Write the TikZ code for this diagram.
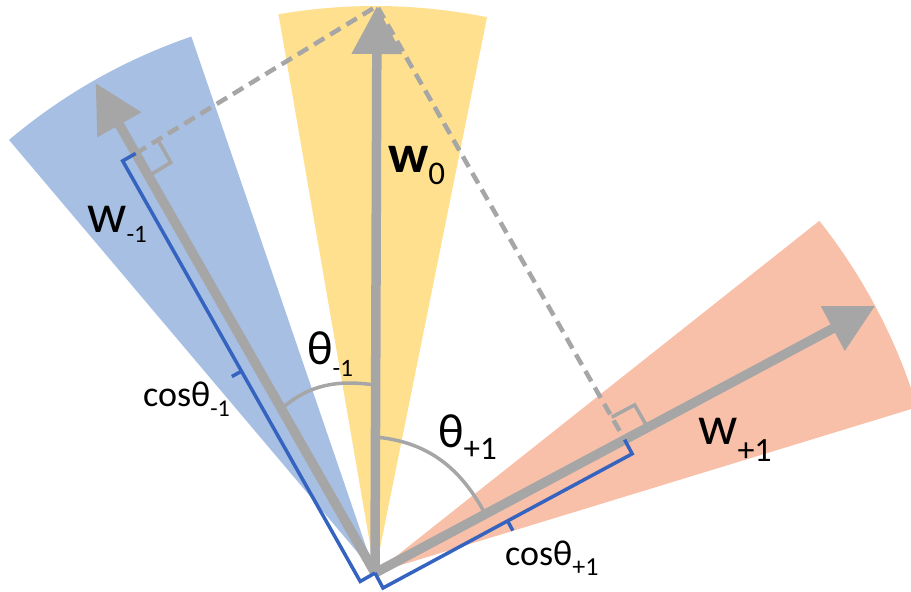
\documentclass[tikz,border=0pt]{standalone}
\usepackage{fontspec}
\setmainfont{Carlito}
\usetikzlibrary{arrows.meta,calc}
\definecolor{secY}{HTML}{FFE08F}
\definecolor{secB}{HTML}{A6BFE2}
\definecolor{secR}{HTML}{F8C0A8}
\definecolor{vecG}{HTML}{A6A6A6}
\definecolor{brB}{HTML}{3563C0}
\begin{document}
\begin{tikzpicture}[x=1pt,y=1pt,
  vec/.style={vecG, line width=9.5pt, -{Triangle[length=48pt,width=48pt]}},
  proj/.style={vecG, line width=4.5pt, dash pattern=on 12pt off 7pt},
  rmark/.style={vecG, line width=3.5pt},
  anglearc/.style={vecG, line width=3.5pt},
  brace/.style={brB, line width=3.5pt, line join=miter},
  lbl/.style={inner sep=0pt, anchor=base west, text=black}
]
\useasboundingbox (-375,-19) rectangle (536,573);
\begin{scope}
\clip (-375,-19) rectangle (536,573);
\fill[secB] (0,0) -- (108.9:567) arc[start angle=108.9, end angle=130.2, radius=567] -- cycle;
\fill[secY] (0,0) -- (78.6:567) arc[start angle=78.6, end angle=99.8, radius=567] -- cycle;
\fill[secR] (0,0) -- (17:567) arc[start angle=17, end angle=38.4, radius=567] -- cycle;
\end{scope}
\coordinate (O) at (0,0);
\coordinate (T0) at (89.8:567);
\coordinate (Tm) at (119.7:564);
\coordinate (Tp) at (28.1:567);
\coordinate (Fm) at (119.7:483);
\coordinate (Fp) at (28.1:283);
% projections
\draw[proj] (Fm) -- (T0) -- (Fp);
% right angle marks
\coordinate (Sa) at ($(Fm)!26pt!(T0)$);
\coordinate (Sb) at ($(Fm)!26pt!(O)$);
\draw[rmark] (Sa) -- ($(Sa)+(Sb)-(Fm)$) -- (Sb);
\coordinate (Sc) at ($(Fp)!26pt!(T0)$);
\coordinate (Sd) at ($(Fp)!26pt!(Tp)$);
\draw[rmark] (Sc) -- ($(Sc)+(Sd)-(Fp)$) -- (Sd);
% vectors
\draw[vec] (O) -- (T0);
\draw[vec] (O) -- (Tm);
\draw[vec] (O) -- (Tp);
% braces
\coordinate (Bm1) at ($(Fm)!15pt!-90:(O)$);
\coordinate (Bm2) at ($(O)!17pt!90:(Fm)$);
\draw[brace] (Fm) -- (Bm1) -- (Bm2) -- (O);
\coordinate (Mm) at ($(Bm1)!0.5!(Bm2)$);
\coordinate (Mm2) at ($(Mm)!11pt!-90:(Bm2)$);
\draw[brace] (Mm) -- (Mm2);
\coordinate (Bp1) at ($(Fp)!16pt!90:(O)$);
\coordinate (Bp2) at ($(O)!17pt!-90:(Fp)$);
\draw[brace] (Fp) -- (Bp1) -- (Bp2) -- (O);
\coordinate (Mp) at ($(Bp1)!0.5!(Bp2)$);
\coordinate (Mp2) at ($(Mp)!11pt!90:(Bp2)$);
\draw[brace] (Mp) -- (Mp2);
% angle arcs
\coordinate (Am1) at (90:188);
\coordinate (Am2) at (119.7:189);
\draw[anglearc] (Am1) to[out=172,in=41] (Am2);
\coordinate (Ap1) at (90:136);
\coordinate (Ap2) at (28.1:125);
\draw[anglearc] (Ap1) to[out=-5,in=118] (Ap2);
% labels
\node[lbl] (lw0) at (13,400) {\fontsize{54}{60}\selectfont\bfseries w\raisebox{-12pt}{\fontsize{33}{36}\selectfont\mdseries 0}};
\node[lbl] (lwm) at (-288,340) {\fontsize{55}{60}\selectfont w\raisebox{-10pt}{\fontsize{25}{28}\selectfont -1}};
\node[lbl] (lwp) at (323,128) {\fontsize{55}{60}\selectfont w\raisebox{-17pt}{\fontsize{34}{36}\selectfont +1}};
\node[lbl] (ltm) at (-68,208) {\fontsize{48}{56}\selectfont θ\raisebox{-12pt}{\fontsize{25}{28}\selectfont -1}};
\node[lbl] (ltp) at (63,125) {\fontsize{48}{56}\selectfont θ\raisebox{-12pt}{\fontsize{33}{36}\selectfont +1}};
\node[lbl] (lcm) at (-232,166) {\fontsize{36}{40}\selectfont cosθ\raisebox{-10pt}{\fontsize{24}{26}\selectfont -1}};
\node[lbl] (lcp) at (130,7) {\fontsize{36}{40}\selectfont cosθ\raisebox{-10pt}{\fontsize{26}{28}\selectfont +1}};
\end{tikzpicture}
\end{document}
